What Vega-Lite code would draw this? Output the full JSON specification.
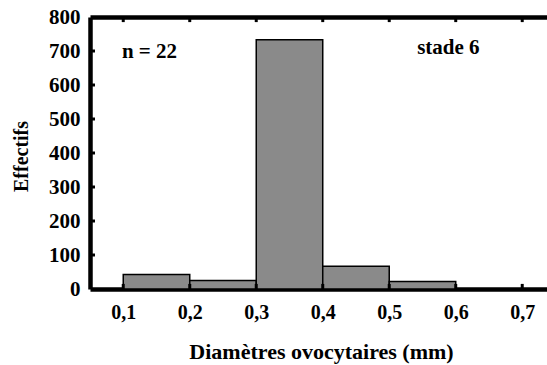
{
  "$schema": "https://vega.github.io/schema/vega-lite/v6.json",
  "autosize": "none",
  "width": 470,
  "height": 272,
  "padding": {"left": 90, "top": 17, "right": 0, "bottom": 76},
  "background": "white",
  "config": {
    "view": {"stroke": null},
    "font": "Liberation Serif",
    "axis": {"grid": false, "zindex": 1, "domainColor": "black", "domainWidth": 4.5, "ticks": false, "labelFont": "Liberation Serif", "labelFontWeight": "bold", "labelFontSize": 20, "labelColor": "black", "titleFont": "Liberation Serif", "titleFontWeight": "bold", "titleColor": "black"}
  },
  "datasets": {
    "bins": [
      {"debut": 0.1, "fin": 0.2, "effectif": 43},
      {"debut": 0.2, "fin": 0.3, "effectif": 25},
      {"debut": 0.3, "fin": 0.4, "effectif": 733},
      {"debut": 0.4, "fin": 0.5, "effectif": 67},
      {"debut": 0.5, "fin": 0.6, "effectif": 22},
      {"debut": 0.6, "fin": 0.7, "effectif": 0}
    ],
    "notes": [
      {"x": 0.098, "y": 697, "label": "n = 22"},
      {"x": 0.542, "y": 709, "label": "stade 6"}
    ],
    "xticks": [{"v": 0.1}, {"v": 0.2}, {"v": 0.3}, {"v": 0.4}, {"v": 0.5}, {"v": 0.6}, {"v": 0.7}],
    "yticks": [{"v": 100}, {"v": 200}, {"v": 300}, {"v": 400}, {"v": 500}, {"v": 600}, {"v": 700}]
  },
  "resolve": {"axis": {"x": "independent", "y": "independent"}},
  "layer": [
    {
      "data": {"name": "bins"},
      "mark": {"type": "rect", "fill": "#8a8a8a", "stroke": "black", "strokeWidth": 1.5},
      "encoding": {
        "x": {"field": "debut", "type": "quantitative", "scale": {"domain": [0.05, 0.7568], "nice": false, "zero": false},
          "axis": {"orient": "bottom", "values": [0.1, 0.2, 0.3, 0.4, 0.5, 0.6, 0.7], "format": ".1f", "labelExpr": "replace(datum.label, '.', ',')", "labelPadding": 13, "title": "Diamètres ovocytaires (mm)", "titleFontSize": 22, "titleX": 231, "titleY": 69, "titleAnchor": "start", "titleAlign": "center", "titleBaseline": "alphabetic"}},
        "x2": {"field": "fin"},
        "y": {"field": "effectif", "type": "quantitative", "scale": {"domain": [0, 800], "nice": false},
          "axis": {"orient": "left", "values": [0, 100, 200, 300, 400, 500, 600, 700, 800], "labelPadding": 10, "labelFontSize": 21, "title": "Effectifs", "titleFontSize": 20, "titleX": -69, "titleY": 139, "titleAngle": -90, "titleAnchor": "start", "titleAlign": "center", "titleBaseline": "middle"}},
        "y2": {"datum": 0}
      }
    },
    {
      "data": {"name": "xticks"},
      "mark": {"type": "rule", "color": "black", "strokeWidth": 3},
      "encoding": {
        "x": {"field": "v", "type": "quantitative", "axis": null},
        "y": {"datum": 0, "type": "quantitative", "axis": null},
        "y2": {"datum": 15}
      }
    },
    {
      "data": {"name": "xticks"},
      "mark": {"type": "rule", "color": "black", "strokeWidth": 3},
      "encoding": {
        "x": {"field": "v", "type": "quantitative", "axis": null},
        "y": {"datum": 800, "type": "quantitative", "axis": null},
        "y2": {"datum": 785}
      }
    },
    {
      "data": {"name": "yticks"},
      "mark": {"type": "rule", "color": "black", "strokeWidth": 3},
      "encoding": {
        "y": {"field": "v", "type": "quantitative", "axis": null},
        "x": {"datum": 0.05, "type": "quantitative", "axis": null},
        "x2": {"datum": 0.0575}
      }
    },
    {
      "data": {"name": "notes"},
      "mark": {"type": "text", "font": "Liberation Serif", "fontWeight": "bold", "fontSize": 21, "align": "left", "baseline": "middle", "color": "black"},
      "encoding": {
        "x": {"field": "x", "type": "quantitative", "axis": {"orient": "top", "labels": false, "title": null}},
        "y": {"field": "y", "type": "quantitative", "axis": null},
        "text": {"field": "label"}
      }
    }
  ]
}
